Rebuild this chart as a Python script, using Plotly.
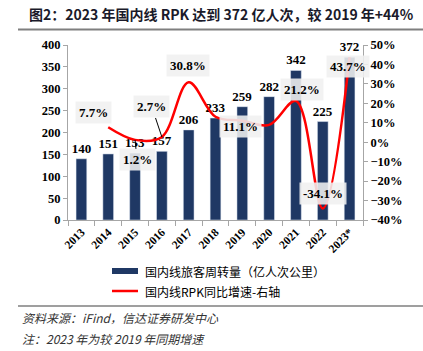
import plotly.graph_objects as go

years = ["2013", "2014", "2015", "2016", "2017", "2018", "2019", "2020", "2021", "2022", "2023*"]
rpk = [140, 151, 153, 157, 206, 233, 259, 282, 342, 225, 372]
growth_years = ["2014", "2015", "2016", "2017", "2018", "2019", "2020", "2021", "2022", "2023*"]
growth = [7.7, 1.2, 2.7, 30.8, 13.1, 11.1, 8.9, 21.2, -34.1, 43.7]
label_years = ["2014", "2015", "2016", "2017", "2019", "2021", "2022", "2023*"]
label_vals = [7.7, 1.2, 2.7, 30.8, 11.1, 21.2, -34.1, 43.7]

title_text = "图2：2023 年国内线 RPK 达到 372 亿人次，较 2019 年+44%"
bar_name = "国内线旅客周转量（亿人次公里）"
line_name = "国内线RPK同比增速-右轴"
source_text = "资料来源：iFind，信达证券研发中心"
note_text = "注：2023 年为较 2019 年同期增速"

W, H = 423, 351
L, R, T, B = 68, 60, 45, 131
pw, ph = W - L - R, H - T - B

def px(x):
    return (x - L) / pw

def py(y):
    return (H - B - y) / ph

navy = "#1F3864"
red = "#FF0000"
serif = "Liberation Serif"
cjk = "Noto Sans CJK SC"

fig = go.Figure()
fig.add_trace(go.Bar(
    x=years, y=rpk, marker_color=navy, name=bar_name,
    text=[str(v) for v in rpk], textposition="outside", constraintext="none",
    textfont=dict(family=serif, size=13, color="#000", weight="bold"),
    cliponaxis=False, showlegend=False,
))
fig.add_trace(go.Scatter(
    x=growth_years, y=growth, yaxis="y2", mode="lines",
    line=dict(color=red, width=2.5, shape="spline", smoothing=1.0),
    name=line_name, showlegend=False, cliponaxis=False,
))

# percentage labels (offsets in pixels)
offsets = {
    "2014": dict(showarrow=False, xshift=-15, yshift=15),
    "2015": dict(showarrow=True, ax=2, ay=20),
    "2016": dict(showarrow=True, ax=-10, ay=-30),
    "2017": dict(showarrow=False, xshift=-1, yshift=17),
    "2019": dict(showarrow=False, xshift=-2, yshift=-6),
    "2021": dict(showarrow=False, xshift=6, yshift=12),
    "2022": dict(showarrow=False, xshift=0, yshift=15),
    "2023*": dict(showarrow=False, xshift=-2, yshift=-9),
}
for yr, v in zip(label_years, label_vals):
    o = offsets[yr]
    ann = dict(x=years.index(yr), y=v, xref="x", yref="y2", text=f"{v}%",
               font=dict(family=serif, size=13, color="#000", weight="bold"),
               bgcolor="rgba(240,240,240,0.88)", borderpad=3)
    if o.get("showarrow"):
        ann.update(showarrow=True, ax=o["ax"], ay=o["ay"], axref="pixel", ayref="pixel",
                   arrowhead=0, arrowwidth=1, arrowcolor="#000", standoff=0)
    else:
        ann.update(showarrow=False, xshift=o["xshift"], yshift=o["yshift"])
    fig.add_annotation(**ann)

# title and notes
fig.add_annotation(x=px(27), y=py(14), xref="paper", yref="paper", text=title_text,
                   showarrow=False, xanchor="left", yanchor="middle",
                   font=dict(family=cjk, size=14, color="#1a1a2a", weight="bold"))
fig.add_annotation(x=px(20), y=py(317), xref="paper", yref="paper", text=f"<i>{source_text}</i>",
                   showarrow=False, xanchor="left", yanchor="middle",
                   font=dict(family=cjk, size=12, color="#333"))
fig.add_annotation(x=px(20), y=py(338), xref="paper", yref="paper", text=f"<i>{note_text}</i>",
                   showarrow=False, xanchor="left", yanchor="middle",
                   font=dict(family=cjk, size=12, color="#333"))

# legend (manual)
fig.add_shape(type="rect", xref="paper", yref="paper", x0=px(112), x1=px(138), y0=py(268), y1=py(274),
              fillcolor=navy, line=dict(width=0))
fig.add_shape(type="line", xref="paper", yref="paper", x0=px(112), x1=px(138), y0=py(291), y1=py(291),
              line=dict(color=red, width=2.5))
fig.add_annotation(x=px(143), y=py(271), xref="paper", yref="paper", text=bar_name,
                   showarrow=False, xanchor="left", yanchor="middle",
                   font=dict(family=cjk, size=12, color="#000"))
fig.add_annotation(x=px(143), y=py(291), xref="paper", yref="paper", text=line_name,
                   showarrow=False, xanchor="left", yanchor="middle",
                   font=dict(family=cjk, size=12, color="#000"))

# separator lines
fig.add_shape(type="line", xref="paper", yref="paper", x0=px(18), x1=px(423), y0=py(29.5), y1=py(29.5),
              line=dict(color="#7f7f7f", width=2))
fig.add_shape(type="line", xref="paper", yref="paper", x0=px(18), x1=px(423), y0=py(306), y1=py(306),
              line=dict(color="#7f7f7f", width=1.5))

axis_col = "#a6a6a6"
fig.update_layout(
    width=W, height=H,
    margin=dict(l=L, r=R, t=T, b=B),
    paper_bgcolor="white", plot_bgcolor="white",
    bargap=0.6, showlegend=False,
    xaxis=dict(type="category", categoryorder="array", categoryarray=years,
               range=[-0.5, len(years) - 0.5], autorange=False,
               showgrid=False, showline=True, linecolor=axis_col, linewidth=1,
               ticks="outside", tickson="boundaries", ticklen=5, tickcolor=axis_col,
               tickangle=-45, tickfont=dict(family=serif, size=11.5, color="#000", weight="bold")),
    yaxis=dict(range=[0, 400], dtick=50, showgrid=False, zeroline=False, showline=True,
               linecolor=axis_col, linewidth=1, ticks="outside", ticklen=4, tickcolor=axis_col,
               tickfont=dict(family=serif, size=12.5, color="#000", weight="bold")),
    yaxis2=dict(range=[-40, 50], dtick=10, overlaying="y", side="right", showgrid=False,
                zeroline=False, showline=True, linecolor=axis_col, linewidth=1, ticks="outside",
                ticklen=4, tickcolor=axis_col, ticksuffix="%",
                tickfont=dict(family=serif, size=12.5, color="#000", weight="bold")),
)

fig.write_html("out.html")
